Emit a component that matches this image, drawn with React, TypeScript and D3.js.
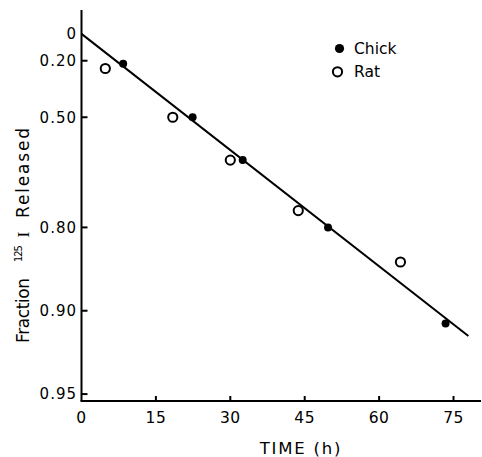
import React from "react";
import * as d3 from "d3";

const chickTime = [8.4, 22.4, 32.5, 49.7, 73.4];
const chickFraction = [0.22, 0.5, 0.65, 0.8, 0.91];
const ratTime = [4.8, 18.4, 30.0, 43.7, 64.3];
const ratFraction = [0.25, 0.5, 0.65, 0.77, 0.85];
const fitTime = [0, 78];
const fitFraction = [0, 0.919];
const yTickValues = [0, 0.2, 0.5, 0.8, 0.9, 0.95];
const yTickLabels = ["0", "0.20", "0.50", "0.80", "0.90", "0.95"];
const xTickValues = [0, 15, 30, 45, 60, 75];
const xTickLabels = ["0", "15", "30", "45", "60", "75"];

const W = 482;
const H = 457;
const FONT = "'DejaVu Sans', 'Liberation Sans', Arial, sans-serif";
const SERIF = "'Liberation Serif', 'DejaVu Serif', serif";

export default function App() {
  const x = d3.scaleLinear().domain([0, 80.5]).range([81.5, 480.8]);
  const yLog = d3.scaleLog().domain([1.22, 0.0472]).range([10, 401]);
  const y = (f: number) => yLog(1 - f);

  const line = d3
    .line<number>()
    .x((_, i) => x(fitTime[i]))
    .y((f) => y(f));

  const axisX = x(0);
  const axisY = 401;

  return (
    <svg
      width={W}
      height={H}
      style={{ position: "absolute", left: 0, top: 0, display: "block", background: "#fff" }}
      fontFamily={FONT}
    >
      {/* axes */}
      <line x1={axisX} y1={10} x2={axisX} y2={axisY} stroke="#000" strokeWidth={2} />
      <line x1={axisX - 1} y1={axisY} x2={481} y2={axisY} stroke="#000" strokeWidth={2} />

      {/* y ticks */}
      {yTickValues.map((v, i) => (
        <g key={"yt" + i}>
          {v !== 0 && (
            <line x1={axisX} x2={axisX + 6} y1={y(v)} y2={y(v)} stroke="#000" strokeWidth={2} />
          )}
          <text
            x={77}
            y={y(v)}
            dy="0.36em"
            textAnchor="end"
            fontSize={15}
            letterSpacing={1}
            fill="#000"
          >
            {yTickLabels[i]}
          </text>
        </g>
      ))}

      {/* x ticks */}
      {xTickValues.map((v, i) => (
        <g key={"xt" + i}>
          {v !== 0 && (
            <line x1={x(v)} x2={x(v)} y1={axisY} y2={axisY - 5} stroke="#000" strokeWidth={2} />
          )}
          <text x={x(v)} y={422.5} textAnchor="middle" fontSize={15.5} letterSpacing={0.5} fill="#000">
            {xTickLabels[i]}
          </text>
        </g>
      ))}

      {/* axis titles */}
      <text x={301} y={453.5} textAnchor="middle" fontSize={16.5} letterSpacing={1.8} fill="#000">
        TIME (h)
      </text>
      <g transform="translate(28.5,0) rotate(-90)" fill="#000">
        <text x={-343} y={0} fontSize={17} textLength={65} lengthAdjust="spacing">
          Fraction
        </text>
        <text x={-262} y={-6.5} fontSize={10} textLength={17} lengthAdjust="spacing">
          125
        </text>
        <text x={-237.5} y={0} fontSize={17.5} fontFamily={SERIF}>
          I
        </text>
        <text x={-218} y={0} fontSize={17} textLength={90} lengthAdjust="spacing">
          Released
        </text>
      </g>

      {/* fit line */}
      <path d={line(fitFraction) || ""} fill="none" stroke="#000" strokeWidth={2} />

      {/* rat points (open) */}
      {ratTime.map((t, i) => (
        <circle key={"r" + i} cx={x(t)} cy={y(ratFraction[i])} r={4.6} fill="#fff" stroke="#000" strokeWidth={2} />
      ))}
      {/* chick points (filled) */}
      {chickTime.map((t, i) => (
        <circle key={"c" + i} cx={x(t)} cy={y(chickFraction[i])} r={4} fill="#000" />
      ))}

      {/* legend */}
      <circle cx={339.5} cy={48.5} r={4.6} fill="#000" />
      <text x={354} y={53.5} fontSize={15.5} fill="#000">
        Chick
      </text>
      <circle cx={337.5} cy={71.8} r={4.6} fill="#fff" stroke="#000" strokeWidth={2} />
      <text x={354} y={77} fontSize={15.5} fill="#000">
        Rat
      </text>
    </svg>
  );
}
